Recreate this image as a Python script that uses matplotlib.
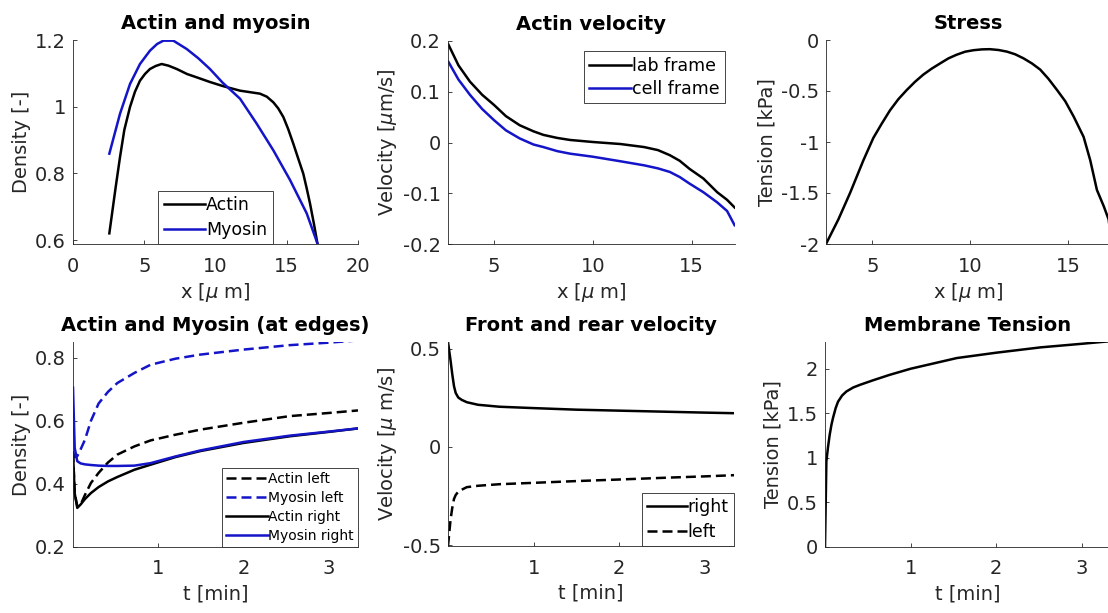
import matplotlib
matplotlib.use('Agg')
import matplotlib.pyplot as plt
from matplotlib.ticker import FuncFormatter

plt.rcParams['font.family'] = 'DejaVu Sans'
plt.rcParams['mathtext.fontset'] = 'dejavusans'
plt.rcParams['axes.unicode_minus'] = False

BLUE = '#1414c8'
GRAY = '#262626'

# Actin and myosin density along the cell
act_x = [2.55, 3.0, 3.3, 3.6, 4.0, 4.35, 4.7, 5.05, 5.4, 5.8, 6.22, 6.7, 7.28, 8.0, 8.68,
         9.61, 10.5, 11.72, 12.5, 13.12, 13.6, 14.06, 14.4, 14.76, 15.1, 15.46, 15.8,
         16.16, 16.4, 16.63, 16.9, 17.15]
actin = [0.62, 0.76, 0.849, 0.93, 0.999, 1.045, 1.078, 1.098, 1.113, 1.122, 1.128, 1.123,
         1.113, 1.098, 1.088, 1.074, 1.062, 1.048, 1.043, 1.039, 1.03, 1.013, 0.995, 0.969,
         0.933, 0.889, 0.845, 0.799, 0.755, 0.71, 0.65, 0.59]
myo_x = [2.55, 3.3, 4.0, 4.7, 5.4, 5.9, 6.34, 7.04, 7.98, 8.8, 9.61, 10.5, 11.72, 12.89,
         14.06, 15.23, 16.4, 17.15]
myosin = [0.859, 0.979, 1.068, 1.128, 1.168, 1.188, 1.198, 1.198, 1.173, 1.145, 1.113,
          1.072, 1.024, 0.949, 0.869, 0.78, 0.68, 0.59]

# Actin velocity
vel_x = [2.69, 3.2, 3.78, 4.4, 5.0, 5.6, 6.3, 7.0, 7.5, 8.2, 8.85, 10.0, 11.4, 12.6, 13.3,
         13.9, 14.4, 14.9, 15.6, 16.3, 16.8, 17.18]
vel_lab = [0.193, 0.152, 0.12, 0.094, 0.074, 0.052, 0.034, 0.022, 0.015, 0.009, 0.005,
           0.001, -0.003, -0.009, -0.015, -0.025, -0.036, -0.052, -0.071, -0.098, -0.113,
           -0.128]
vel_cell = [0.159, 0.124, 0.094, 0.066, 0.044, 0.024, 0.008, -0.004, -0.009, -0.017,
            -0.022, -0.028, -0.037, -0.045, -0.051, -0.058, -0.068, -0.081, -0.098, -0.118,
            -0.135, -0.163]

# Stress
stress_x = [2.63, 3.26, 3.86, 4.54, 5.05, 5.48, 5.9, 6.33, 6.76, 7.18, 7.6, 8.04, 8.46,
            8.89, 9.3, 9.74, 10.17, 10.6, 11.0, 11.45, 11.88, 12.3, 12.73, 13.16, 13.58,
            14.0, 14.44, 14.86, 15.29, 15.8, 16.14, 16.48, 16.83, 17.08, 17.2]
stress = [-2.0, -1.76, -1.5, -1.18, -0.96, -0.82, -0.69, -0.58, -0.49, -0.41, -0.34, -0.28,
          -0.23, -0.18, -0.145, -0.115, -0.1, -0.092, -0.09, -0.098, -0.114, -0.14, -0.18,
          -0.23, -0.29, -0.38, -0.49, -0.6, -0.75, -0.95, -1.18, -1.47, -1.63, -1.76, -1.95]

# Densities at the edges over time
t_edge = [0, 0.02, 0.05, 0.09, 0.14, 0.21, 0.3, 0.41, 0.52, 0.72, 0.91, 1.2, 1.49, 2.0,
          2.54, 3.0, 3.34]
actin_left = [0.5, 0.37, 0.33, 0.335, 0.365, 0.403, 0.435, 0.468, 0.493, 0.519, 0.538,
              0.556, 0.572, 0.594, 0.615, 0.625, 0.633]
myosin_left = [0.5, 0.485, 0.488, 0.51, 0.54, 0.6, 0.655, 0.692, 0.72, 0.752, 0.778,
               0.797, 0.81, 0.826, 0.84, 0.848, 0.855]
actin_right = [0.5, 0.37, 0.324, 0.335, 0.352, 0.371, 0.39, 0.408, 0.422, 0.445, 0.461,
               0.485, 0.504, 0.53, 0.551, 0.565, 0.576]
myosin_right = [0.705, 0.514, 0.472, 0.465, 0.462, 0.46, 0.458, 0.457, 0.457, 0.458, 0.466,
                0.487, 0.506, 0.533, 0.553, 0.566, 0.576]

# Front and rear velocity
t_vel = [0, 0.03, 0.05, 0.07, 0.09, 0.12, 0.16, 0.22, 0.35, 0.6, 1.0, 1.5, 2.0, 2.6, 3.0,
         3.34]
v_right = [0.535, 0.44, 0.37, 0.31, 0.275, 0.252, 0.24, 0.228, 0.215, 0.205, 0.198, 0.19,
           0.185, 0.179, 0.175, 0.172]
v_left = [-0.505, -0.37, -0.31, -0.265, -0.245, -0.228, -0.218, -0.205, -0.198, -0.19,
          -0.183, -0.174, -0.166, -0.156, -0.15, -0.144]

# Membrane tension
t_mem = [0, 0.016, 0.035, 0.055, 0.075, 0.094, 0.125, 0.152, 0.2, 0.25, 0.33, 0.41, 0.56,
         0.75, 1.0, 1.54, 2.0, 2.52, 3.0, 3.34]
tension = [0, 0.96, 1.12, 1.26, 1.37, 1.45, 1.56, 1.63, 1.7, 1.745, 1.79, 1.82, 1.87, 1.93,
           2.0, 2.12, 2.18, 2.24, 2.28, 2.31]


def style(ax, title, xlabel, ylabel, xlim, ylim, xticks, yticks):
    for s in ['top', 'right']:
        ax.spines[s].set_visible(False)
    for s in ['left', 'bottom']:
        ax.spines[s].set_color(GRAY)
        ax.spines[s].set_linewidth(0.6)
    ax.set_xlim(xlim)
    ax.set_ylim(ylim)
    ax.set_xticks(xticks)
    ax.set_yticks(yticks)
    fmt = FuncFormatter(lambda v, p: f'{v:g}')
    ax.xaxis.set_major_formatter(fmt)
    ax.yaxis.set_major_formatter(fmt)
    ax.tick_params(direction='in', length=3, width=0.6, color=GRAY, labelcolor=GRAY,
                   labelsize=14)
    ax.tick_params(axis='x', pad=9)
    ax.tick_params(axis='y', pad=5)
    ax.set_title(title, fontsize=14, fontweight='bold', pad=8)
    ax.set_xlabel(xlabel, fontsize=14, color=GRAY, labelpad=4)
    ax.set_ylabel(ylabel, fontsize=14, color=GRAY, labelpad=3)


def legend(ax, loc, size=12.5, pad=0.0, hl=2.4, ls=0.4):
    leg = ax.legend(loc=loc, fontsize=size, fancybox=False, framealpha=1,
                    edgecolor=GRAY, borderaxespad=pad, handlelength=hl,
                    handletextpad=0.05, labelspacing=ls, borderpad=0.3)
    leg.get_frame().set_linewidth(0.6)
    return leg


fig = plt.figure(figsize=(11.08, 6.13), dpi=100)
W, H = 1108, 613


def axes_px(left, top, width, height):
    return fig.add_axes([left / W, 1 - (top + height) / H, width / W, height / H])


lw = 1.8
dash = (0, (4, 2))

ax1 = axes_px(73, 40, 285, 204)
ax1.plot(act_x, actin, color='k', lw=lw, label='Actin')
ax1.plot(myo_x, myosin, color=BLUE, lw=lw, label='Myosin')
style(ax1, 'Actin and myosin', r'x [$\mu$ m]', 'Density [-]', (0, 20), (0.588, 1.2),
      [0, 5, 10, 15, 20], [0.6, 0.8, 1, 1.2])
legend(ax1, 'lower center')

ax2 = axes_px(448, 41, 287, 203)
ax2.plot(vel_x, vel_lab, color='k', lw=lw, label='lab frame')
ax2.plot(vel_x, vel_cell, color=BLUE, lw=lw, label='cell frame')
style(ax2, 'Actin velocity', r'x [$\mu$ m]', r'Velocity [$\mu$m/s]', (2.67, 17.2),
      (-0.2, 0.2), [5, 10, 15], [-0.2, -0.1, 0, 0.1, 0.2])
legend(ax2, 'upper right', pad=0.6, ls=0.3)

ax3 = axes_px(826, 40, 285, 204)
ax3.plot(stress_x, stress, color='k', lw=lw)
style(ax3, 'Stress', r'x [$\mu$ m]', 'Tension [kPa]', (2.63, 17.2), (-2, 0),
      [5, 10, 15], [-2, -1.5, -1, -0.5, 0])

ax4 = axes_px(73, 342, 285, 205)
ax4.plot(t_edge, actin_left, color='k', lw=lw, ls=dash, label='Actin left')
ax4.plot(t_edge, myosin_left, color=BLUE, lw=lw, ls=dash, label='Myosin left')
ax4.plot(t_edge, actin_right, color='k', lw=lw, label='Actin right')
ax4.plot(t_edge, myosin_right, color=BLUE, lw=lw, label='Myosin right')
style(ax4, 'Actin and Myosin (at edges)', 't [min]', 'Density [-]', (0, 3.34),
      (0.2, 0.85), [1, 2, 3], [0.2, 0.4, 0.6, 0.8])
legend(ax4, 'lower right', size=10, hl=3.0, ls=0.35)

ax5 = axes_px(448, 342, 286, 204)
ax5.plot(t_vel, v_right, color='k', lw=lw, label='right')
ax5.plot(t_vel, v_left, color='k', lw=lw, ls=dash, label='left')
style(ax5, 'Front and rear velocity', 't [min]', r'Velocity [$\mu$ m/s]', (0, 3.34),
      (-0.505, 0.535), [1, 2, 3], [-0.5, 0, 0.5])
legend(ax5, 'lower right', hl=2.3)

ax6 = axes_px(825, 342, 286, 205)
ax6.plot(t_mem, tension, color='k', lw=lw)
style(ax6, 'Membrane Tension', 't [min]', 'Tension [kPa]', (0, 3.34), (0, 2.3),
      [1, 2, 3], [0, 0.5, 1, 1.5, 2])

fig.savefig('out.png', dpi=100)
